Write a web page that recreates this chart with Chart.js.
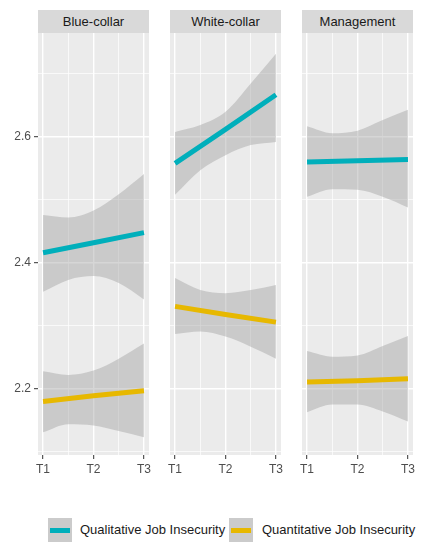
<!DOCTYPE html>
<html>
<head>
<meta charset="utf-8">
<script src="https://cdn.jsdelivr.net/npm/chart.js@4.4.1/dist/chart.umd.min.js"></script>
<style>
  body { margin: 0; background: #fff; font-family: 'Liberation Sans', Arial, sans-serif; }
  #wrap { position: relative; width: 428px; height: 550px; overflow: hidden; }
  canvas { position: absolute; }
  .strip { position: absolute; top: 10px; height: 23px; line-height: 23px; background: #D9D9D9;
           color: #1A1A1A; font-size: 13px; text-align: center; }
  .key { position: absolute; top: 518px; width: 24px; height: 24px; background: #CBCBCB; }
  .key span { position: absolute; left: 2px; right: 2px; top: 9.5px; height: 5px; }
  .ltext { position: absolute; top: 520px; line-height: 20px; font-size: 13px; color: #1A1A1A; white-space: nowrap; }
</style>
</head>
<body>
<div id="wrap">
  <div class="strip" style="left:38px;width:111px">Blue-collar</div>
  <div class="strip" style="left:170px;width:111px">White-collar</div>
  <div class="strip" style="left:302px;width:111px">Management</div>
  <canvas id="c0" width="159" height="447" style="left:0px;top:33px"></canvas>
  <canvas id="c1" width="131" height="447" style="left:160px;top:33px"></canvas>
  <canvas id="c2" width="131" height="447" style="left:292px;top:33px"></canvas>
  <div class="key" style="left:48px"><span style="background:#00AFBB"></span></div>
  <div class="ltext" style="left:80px">Qualitative Job Insecurity</div>
  <div class="key" style="left:229px"><span style="background:#E7B800"></span></div>
  <div class="ltext" style="left:262px">Quantitative Job Insecurity</div>
</div>
<script>
// facets and time points
const groups = ['Blue-collar', 'White-collar', 'Management'];
const timeLabels = ['T1', 'T2', 'T3'];
const fitX = [1, 2, 3];
const bandX = [1, 1.5, 2, 2.5, 3];
const xGrid = [1, 1.5, 2, 2.5, 3];
const yGrid = [2.1, 2.2, 2.3, 2.4, 2.5, 2.6, 2.7];

// Qualitative job insecurity (fit + 95% band), one row per group
const qualFit = [
  [2.416, 2.432, 2.448],
  [2.558, 2.612, 2.667],
  [2.560, 2.562, 2.564]
];
const qualUpper = [
  [2.476, 2.472, 2.483, 2.509, 2.541],
  [2.608, 2.619, 2.640, 2.685, 2.732],
  [2.617, 2.606, 2.610, 2.627, 2.643]
];
const qualLower = [
  [2.354, 2.373, 2.379, 2.368, 2.342],
  [2.508, 2.547, 2.571, 2.587, 2.592],
  [2.505, 2.517, 2.516, 2.505, 2.488]
];

// Quantitative job insecurity
const quantFit = [
  [2.180, 2.189, 2.197],
  [2.331, 2.318, 2.306],
  [2.211, 2.213, 2.216]
];
const quantUpper = [
  [2.228, 2.222, 2.229, 2.248, 2.272],
  [2.376, 2.357, 2.352, 2.357, 2.365],
  [2.260, 2.251, 2.253, 2.268, 2.284]
];
const quantLower = [
  [2.131, 2.144, 2.142, 2.133, 2.123],
  [2.287, 2.291, 2.283, 2.267, 2.248],
  [2.163, 2.175, 2.175, 2.164, 2.148]
];

const qualColor = '#00AFBB';
const quantColor = '#E7B800';
const bandColor = 'rgba(153,153,153,0.4)';

Chart.defaults.font.family = "'Liberation Sans', Arial, sans-serif";

const panelBg = {
  id: 'panelBg',
  beforeDraw(chart) {
    const a = chart.chartArea;
    chart.ctx.save();
    chart.ctx.fillStyle = '#EBEBEB';
    chart.ctx.fillRect(a.left, a.top, a.right - a.left, a.bottom - a.top);
    chart.ctx.restore();
  }
};

function pts(xs, ys) {
  return xs.map((x, i) => ({ x: x, y: ys[i] }));
}

function fitLine(ys, color) {
  return { data: pts(fitX, ys), borderColor: color, borderWidth: 5, pointRadius: 0, fill: false, borderCapStyle: 'butt' };
}

function band(upper, lower) {
  return [
    { data: pts(bandX, upper), borderWidth: 0, borderColor: 'rgba(0,0,0,0)', pointRadius: 0, fill: false, cubicInterpolationMode: 'monotone' },
    { data: pts(bandX, lower), borderWidth: 0, borderColor: 'rgba(0,0,0,0)', pointRadius: 0, fill: '-1', backgroundColor: bandColor, cubicInterpolationMode: 'monotone' }
  ];
}

// no extra room for overhanging end labels: panels must line up
function noPad(s) {
  s.paddingTop = 0;
  s.paddingBottom = 0;
  s.paddingLeft = 0;
  s.paddingRight = 0;
}

function drawPanel(i) {
  const showY = i === 0;
  new Chart(document.getElementById('c' + i), {
    type: 'line',
    data: {
      datasets: [
        fitLine(qualFit[i], qualColor),
        fitLine(quantFit[i], quantColor),
        ...band(qualUpper[i], qualLower[i]),
        ...band(quantUpper[i], quantLower[i])
      ]
    },
    options: {
      responsive: false,
      animation: false,
      events: [],
      layout: { padding: { left: showY ? 0 : 10, right: 10, top: 0, bottom: 0 } },
      plugins: {
        legend: { display: false },
        tooltip: { enabled: false },
        filler: { drawTime: 'beforeDatasetsDraw' }
      },
      scales: {
        x: {
          type: 'linear',
          min: 0.9,
          max: 3.1,
          afterBuildTicks: (s) => { s.ticks = xGrid.map(v => ({ value: v })); },
          afterFit: (s) => { s.height = 25; noPad(s); },
          border: { display: false },
          grid: {
            color: '#FFFFFF',
            lineWidth: (c) => Number.isInteger(c.tick.value) ? 1.4 : 0.7,
            tickColor: (c) => Number.isInteger(c.tick.value) ? '#333333' : 'rgba(0,0,0,0)',
            tickLength: 4,
            tickWidth: 1
          },
          ticks: {
            autoSkip: false,
            maxRotation: 0,
            padding: 3,
            color: '#4D4D4D',
            font: { size: 12 },
            callback: (v) => Number.isInteger(v) ? timeLabels[v - 1] : ''
          }
        },
        y: {
          min: 2.095,
          max: 2.765,
          afterBuildTicks: (s) => { s.ticks = yGrid.map(v => ({ value: v })); },
          afterFit: (s) => { s.width = showY ? 38 : 0; noPad(s); },
          border: { display: false },
          grid: {
            color: '#FFFFFF',
            lineWidth: (c) => Math.round(c.tick.value * 10) % 2 === 0 ? 1.4 : 0.7,
            tickColor: (c) => Math.round(c.tick.value * 10) % 2 === 0 ? '#333333' : 'rgba(0,0,0,0)',
            drawTicks: showY,
            tickLength: 4,
            tickWidth: 1
          },
          ticks: {
            display: showY,
            autoSkip: false,
            padding: 3,
            color: '#4D4D4D',
            font: { size: 12 },
            callback: (v) => Math.round(v * 10) % 2 === 0 ? v.toFixed(1) : ''
          }
        }
      }
    },
    plugins: [panelBg]
  });
}

groups.forEach((g, i) => drawPanel(i));
</script>
</body>
</html>
